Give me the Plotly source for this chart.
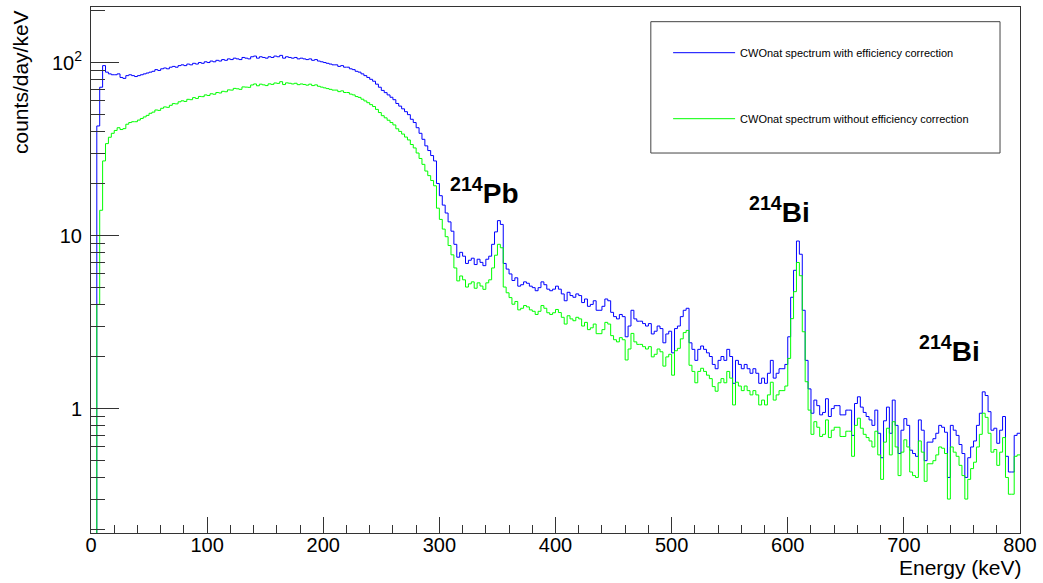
import math
import plotly.graph_objects as go

# ---------------- data (counts/day/keV per 2.5 keV bin, 0-800 keV) ----------------
energy_min = 0.0
energy_max = 800.0
n_bins = 320

with_eff = [
    0, 0, 43, 72, 96, 88, 86, 85, 85, 86, 82, 81, 84, 85, 84, 83, 84, 85, 86, 87,
    88, 89, 91, 90, 92, 93, 92, 94, 95, 94, 96, 97, 96, 98, 97, 99, 98, 100, 99, 101,
    100, 102, 101, 103, 102, 104, 103, 105, 104, 106, 105, 104, 107, 106, 105, 108, 109, 106, 108, 107,
    106, 108, 107, 109, 108, 110, 106, 108, 107, 106, 107, 105, 106, 105, 104, 105, 103, 104, 102, 101,
    100, 99, 98, 97, 97, 95, 96, 94, 94, 92, 91, 89, 88, 86, 84, 82, 80, 78, 75, 72,
    69, 67, 65, 63, 61, 58, 56, 54, 52, 50, 47, 45, 42, 39, 36, 33, 31, 29, 27, 20,
    17, 15, 13.5, 12, 10.6, 8.9, 7.5, 8.0, 7.6, 6.9, 7.2, 7.4, 6.8, 7.3, 7.0, 6.7, 7.3, 7.6, 8.9, 10.5,
    12.2, 11.6, 6.9, 6.4, 6.0, 5.5, 5.7, 5.1, 5.2, 5.4, 5.3, 5.1, 5.0, 4.8, 5.0, 5.4, 5.2, 4.9, 4.8, 4.9,
    5.1, 4.9, 4.6, 4.2, 4.7, 4.5, 4.4, 4.6, 4.5, 4.1, 4.3, 3.9, 4.0, 4.2, 3.7, 3.7, 3.9, 4.3, 4.2, 3.6,
    3.4, 3.3, 3.5, 3.4, 2.6, 3.0, 3.7, 3.3, 3.2, 3.2, 3.1, 3.0, 3.1, 2.7, 2.8, 3.0, 2.9, 2.4, 2.7, 2.8,
    2.1, 2.9, 3.0, 3.4, 3.7, 3.8, 2.4, 2.2, 1.9, 2.2, 2.3, 2.2, 2.1, 2.0, 1.8, 1.7, 1.9, 2.0, 1.9, 2.2,
    2.0, 1.4, 1.9, 1.8, 1.7, 1.8, 1.7, 1.6, 1.7, 1.6, 1.4, 1.5, 1.4, 1.6, 1.9, 1.5, 1.6, 1.7, 1.7, 1.8,
    2.6, 4.4, 6.3, 9.3, 7.8, 3.7, 1.9, 1.3, 0.94, 1.12, 1.04, 0.92, 0.95, 1.14, 0.90, 1.0, 1.04, 1.04, 0.92, 0.92,
    0.98, 0.98, 0.70, 1.07, 1.17, 1.02, 0.95, 0.90, 0.86, 0.80, 0.98, 0.72, 0.52, 0.85, 1.02, 0.72, 1.12, 0.80, 0.55, 0.75,
    0.875, 0.80, 0.575, 0.55, 0.53, 0.86, 0.75, 0.50, 0.64, 0.64, 0.67, 0.72, 0.80, 0.78, 0.73, 0.40, 0.80, 0.75, 0.70, 0.62,
    0.55, 0.40, 0.52, 0.60, 0.65, 0.80, 0.94, 1.25, 1.19, 0.96, 0.75, 0.77, 0.63, 0.75, 0.90, 0.53, 0.43, 0.43, 0.70, 0.72,
]

without_eff = [
    0, 0, 4, 14, 27, 34, 37, 39, 40.5, 42, 41, 41.5, 44, 45, 45.5, 45.5, 46.5, 47.5, 48.5, 49.5,
    50.9, 51.7, 53.2, 52.9, 54.4, 55.4, 55.1, 56.6, 57.9, 57.7, 59.3, 60.1, 59.6, 61.3, 61.0, 62.7, 62.0, 63.7, 63.5, 65.0,
    64.5, 66.0, 65.6, 67.1, 66.7, 68.2, 67.8, 69.5, 69.3, 70.9, 70.5, 70.0, 72.3, 72.1, 71.9, 74.2, 75.2, 73.4, 75.0, 74.3,
    73.6, 75.3, 74.8, 76.2, 75.8, 77.5, 74.6, 76.3, 75.9, 75.2, 75.9, 74.5, 75.2, 74.7, 74.0, 75.0, 73.6, 74.3, 72.9, 72.1,
    71.4, 70.7, 70.0, 69.3, 69.3, 67.9, 68.6, 67.1, 67.1, 65.7, 65.0, 63.6, 62.9, 61.4, 60.0, 58.6, 57.1, 55.7, 53.6, 51.4,
    49.3, 47.9, 46.4, 45.0, 43.6, 41.4, 40.0, 38.6, 37.1, 35.7, 33.6, 32.1, 30.0, 27.9, 25.8, 23.6, 22.2, 20.8, 19.4, 14.4,
    12.4, 10.9, 9.85, 8.76, 7.74, 6.5, 5.47, 5.84, 5.55, 5.04, 5.26, 5.4, 4.96, 5.33, 5.11, 4.89, 5.33, 5.55, 6.5, 7.7,
    8.9, 8.5, 5.04, 4.67, 4.38, 4.01, 4.16, 3.72, 3.80, 3.94, 3.87, 3.72, 3.65, 3.50, 3.65, 3.94, 3.80, 3.58, 3.50, 3.58,
    3.74, 3.59, 3.37, 3.08, 3.44, 3.30, 3.22, 3.37, 3.30, 3.00, 3.15, 2.86, 2.93, 3.08, 2.71, 2.71, 2.86, 3.15, 3.08, 2.64,
    2.50, 2.43, 2.57, 2.50, 1.91, 2.21, 2.72, 2.43, 2.35, 2.35, 2.28, 2.21, 2.28, 1.99, 2.06, 2.21, 2.13, 1.76, 1.99, 2.06,
    1.56, 2.16, 2.23, 2.53, 2.75, 2.83, 1.78, 1.64, 1.41, 1.64, 1.71, 1.64, 1.56, 1.49, 1.34, 1.26, 1.41, 1.49, 1.41, 1.64,
    1.50, 1.05, 1.42, 1.35, 1.27, 1.35, 1.27, 1.20, 1.27, 1.20, 1.05, 1.12, 1.05, 1.20, 1.42, 1.12, 1.20, 1.27, 1.27, 1.35,
    1.95, 3.31, 4.74, 6.99, 5.86, 2.78, 1.43, 0.98, 0.71, 0.84, 0.78, 0.69, 0.71, 0.86, 0.68, 0.75, 0.78, 0.78, 0.69, 0.69,
    0.74, 0.74, 0.53, 0.80, 0.88, 0.77, 0.71, 0.68, 0.65, 0.60, 0.74, 0.54, 0.39, 0.64, 0.77, 0.54, 0.84, 0.60, 0.41, 0.56,
    0.66, 0.60, 0.43, 0.41, 0.40, 0.65, 0.56, 0.38, 0.48, 0.48, 0.50, 0.54, 0.60, 0.59, 0.55, 0.30, 0.60, 0.56, 0.53, 0.47,
    0.41, 0.30, 0.39, 0.45, 0.49, 0.60, 0.71, 0.94, 0.89, 0.72, 0.56, 0.58, 0.47, 0.56, 0.68, 0.40, 0.32, 0.32, 0.53, 0.54,
]

series_names = [
    "CWOnat spectrum with efficiency correction",
    "CWOnat spectrum without efficiency correction",
]
peak_labels = ["<sup>214</sup>Pb", "<sup>214</sup>Bi", "<sup>214</sup>Bi"]
peak_energy = [338, 593, 739]
peak_label_height = [18, 14, 2.2]

y_major_ticks = [1, 10, 100]
y_major_text = ["1", "10", "10<sup>2</sup>"]
y_minor_ticks = [0.2, 0.3, 0.4, 0.5, 0.6, 0.7, 0.8, 0.9,
                 2, 3, 4, 5, 6, 7, 8, 9,
                 20, 30, 40, 50, 60, 70, 80, 90, 200]

# ---------------- build step histograms ----------------
bw = (energy_max - energy_min) / n_bins
edges = [energy_min + i * bw for i in range(n_bins + 1)]
FLOOR = 1e-3  # empty bins are drawn at the bottom of the log axis


def step(values):
    ys = [v if v > 0 else FLOOR for v in values]
    return edges, ys + [ys[-1]]


FONT = "Liberation Sans, Arial, Helvetica, sans-serif"
fig = go.Figure()
for vals, name, col, grp in [(with_eff, series_names[0], "#0000ff", "a"),
                              (without_eff, series_names[1], "#00ff00", "b")]:
    xs, ys = step(vals)
    fig.add_trace(go.Scatter(x=xs, y=ys, mode="lines", line_shape="hv",
                             line=dict(color=col, width=1), name=name,
                             legendgroup=grp, hoverinfo="skip"))

for txt, ex, ey in zip(peak_labels, peak_energy, peak_label_height):
    fig.add_annotation(x=ex, y=math.log10(ey), xref="x", yref="y",
                       text="<b>" + txt + "</b>", showarrow=False,
                       font=dict(family=FONT, size=28, color="black"))

# axis titles (ROOT style: right/top aligned)
fig.add_annotation(text="counts/day/keV", xref="paper", yref="paper",
                   x=-0.0765, y=0.998, xanchor="center", yanchor="top", textangle=-90,
                   showarrow=False, font=dict(family=FONT, size=21, color="black"))
fig.add_annotation(text="Energy (keV)", xref="paper", yref="paper",
                   x=1.004, y=-0.066, xanchor="right", yanchor="middle",
                   showarrow=False, font=dict(family=FONT, size=21, color="black"))

# legend frame
fig.add_shape(type="rect", xref="paper", yref="paper",
              x0=0.6026, x1=0.9785, y0=0.7224, y1=0.9721,
              line=dict(color="#444", width=1), fillcolor="rgba(0,0,0,0)")

fig.update_layout(
    width=1043, height=583,
    margin=dict(l=91, r=21, t=6, b=50),
    paper_bgcolor="white", plot_bgcolor="white",
    font=dict(family=FONT, color="black"),
    showlegend=True,
    legend=dict(x=0.6212, y=0.9407, xanchor="left", yanchor="top",
                bgcolor="rgba(0,0,0,0)", borderwidth=0,
                font=dict(family=FONT, size=11, color="black"),
                tracegroupgap=47, itemwidth=62),
    xaxis=dict(range=[energy_min, energy_max], dtick=100, tick0=0,
               showline=True, mirror=True, linecolor="#333", linewidth=1,
               ticks="inside", ticklen=16, tickcolor="#333", tickwidth=1,
               minor=dict(dtick=20, ticks="inside", ticklen=8, tickcolor="#333"),
               showgrid=False, zeroline=False, ticklabelstandoff=-6,
               tickfont=dict(family=FONT, size=20, color="black")),
    yaxis=dict(type="log", range=[-0.719, 2.321],
               tickmode="array", tickvals=y_major_ticks, ticktext=y_major_text,
               showline=True, mirror=True, linecolor="#333", linewidth=1,
               ticks="inside", ticklen=28, tickcolor="#333", tickwidth=1,
               minor=dict(tickmode="array", tickvals=y_minor_ticks, ticks="inside",
                          ticklen=14, tickcolor="#333"),
               showgrid=False, zeroline=False, ticklabelstandoff=4,
               tickfont=dict(family=FONT, size=20, color="black")),
)

fig.write_html("out.html", config={"displayModeBar": False},
               post_script="document.body.style.margin='0px';")
